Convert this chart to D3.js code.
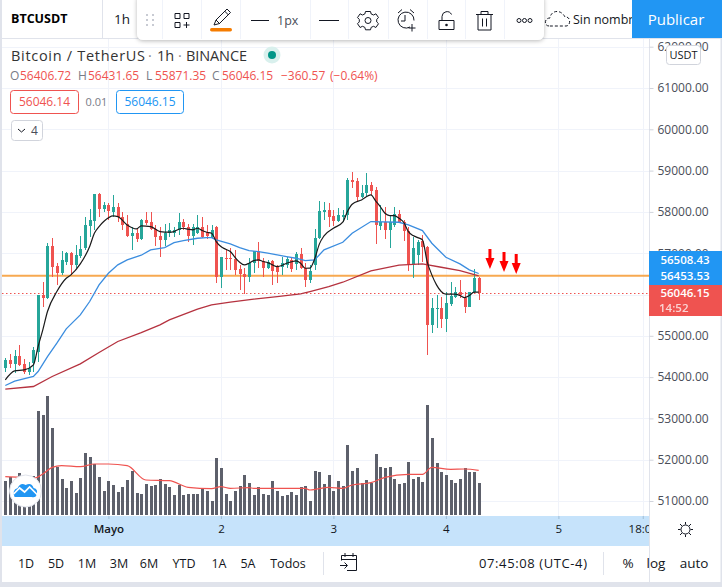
<!DOCTYPE html>
<html><head><meta charset="utf-8">
<script src="https://cdn.jsdelivr.net/npm/d3@7/dist/d3.min.js"></script>
<style>html,body{margin:0;padding:0;background:#fff;overflow:hidden}svg{display:block}text{font-family:"Open Sans",sans-serif}</style>
</head><body><svg id="c" width="722" height="587"></svg>
<script>
// OHLC values per hourly candle
const opens=[54232,54418,54321,54515,54321,54135,54337,54619,55991,55926,57185,56693,56515,56798,56999,56717,56935,57120,57661,57790,58435,58064,58169,58008,58112,57887,57701,57419,57483,57346,57806,57766,57580,57419,57322,57483,57483,57564,57750,57629,57419,57483,57645,57507,57386,57645,56435,56878,56878,56862,56620,56499,56435,56757,57064,56822,56636,56814,56701,56677,56717,56838,56741,56983,56636,56354,56717,57362,58008,58048,57903,57782,57887,57927,58774,58750,58354,58451,58653,58532,57669,57749,57564,57685,57943,57749,57548,56733,56959,57298,57161,55265,55652,55668,55410,55773,55951,56056,55926,55709,56056,56406.72];
const highs=[54458,54563,54660,54781,54442,54377,54724,55991,56314,57241,57370,56757,57056,57040,57040,57201,57419,57887,58064,58435,58450,58250,58225,58411,58209,58008,57927,57645,57604,57822,58008,57991,57685,57645,57701,57741,57645,57967,57822,57709,57709,57927,57887,57685,57685,57660,56902,57096,57120,57080,56717,56636,56878,57064,57265,56878,56838,56838,56717,56919,56902,56919,57040,57120,56757,56717,57588,58266,58250,58209,58048,58088,58048,58814,58960,58830,58653,58935,58734,58613,58169,58129,57927,58129,58048,57806,57645,57403,57322,57443,57170,55910,55991,55951,56072,56297,56193,56354,56072,56072,56620,56431.65];
const lows=[54135,54216,54095,54273,54079,54039,54135,54377,55709,55900,56435,56233,56475,56717,56475,56636,56878,57080,57403,57564,57887,57991,57806,57887,57766,57564,57400,57080,57282,57330,57685,57564,57177,56919,57185,57400,57403,57443,57564,57282,57201,57470,57362,57338,57370,56273,56152,56596,56600,56475,56112,56007,56314,56515,56636,56435,56620,56233,56290,56475,56636,56556,56596,56620,56176,56273,56600,57346,57806,57645,57669,57749,57766,57806,58572,58250,58330,58371,58411,57225,57564,57346,57136,57645,57725,57298,56572,56410,56717,56798,54539,55079,55184,55184,55104,55733,55910,55910,55547,55690,56030,55871.35];
const closes=[54418,54321,54515,54297,54135,54216,54660,55991,55926,57185,56677,56531,56838,56999,56717,56959,57104,57685,57806,58435,58064,58169,58032,58112,57887,57685,57419,57483,57346,57806,57725,57580,57403,57322,57483,57564,57564,57766,57629,57419,57629,57645,57403,57419,57564,56435,56902,56854,56854,56596,56499,56418,56757,57064,56822,56636,56798,56580,56556,56757,56854,56620,56983,56636,56354,56580,57362,58024,58048,57870,57782,57927,57927,58774,58734,58354,58459,58653,58508,57685,57749,57564,57749,57943,57749,57548,56733,57120,57282,57161,55265,55684,55684,55410,55789,55975,56056,55991,55709,56056,56410,56046.15];
const volumes=[103,113,103,125,107,107,117,312,300,357,260,143,108,81,102,66,111,186,174,153,114,72,102,90,69,84,105,132,66,63,93,87,90,108,93,84,60,90,60,63,63,63,81,72,42,171,141,63,42,72,87,120,96,60,84,63,60,102,72,57,60,69,60,84,87,42,132,129,93,120,72,102,87,210,132,141,96,105,96,183,144,141,144,108,93,96,159,108,114,99,330,231,156,129,120,105,96,108,141,129,129,96];
// Sparse moving-average vertices: candle index and value
const fastIdx=[0,2,4,6,7,8,9,11,13,14,16,18,19,20,21,23,24,26,28,29,31,33,35,36,37,38,39,40,41,42,43,44,45,46,47,48,49,50,51,52,53,54,55,56,57,58,59,60,61,62,63,64,65,66,67,68,70,72,73,74,76,78,79,80,81,82,83,84,85,86,87,88,89,90,91,92,93,94,95,96,97,98,99,100,101];
const fastVal=[53934,54152,54176,54297,54741,55144,55588,56072,56394,56475,56741,57161,57483,57645,57766,57903,57887,57685,57588,57661,57645,57524,57508,57524,57580,57604,57580,57564,57604,57548,57507,57483,57282,57161,57096,57040,56902,56781,56717,56757,56822,56838,56798,56773,56717,56677,56701,56757,56790,56814,56757,56636,56640,56860,57220,57420,57604,57750,58008,58185,58290,58411,58266,58129,57967,57911,57911,57846,57749,57524,57427,57378,57322,56798,56475,56233,56072,56007,56007,56007,55975,55926,55975,56056,56056];
const midIdx=[0,2,6,7,9,11,13,16,18,20,22,24,26,29,31,34,36,38,41,43,44,45,48,50,52,54,56,58,60,62,64,66,68,72,74,78,84,86,89,91,94,97,99,101];
const midVal=[53797,53902,54018,54135,54498,54821,55168,55507,55830,56233,56515,56717,56838,56951,57080,57136,57257,57306,57362,57378,57378,57322,57225,57136,57064,57040,57000,56959,56919,56878,56822,56838,57080,57265,57483,57766,57749,57685,57548,57241,56902,56741,56596,56508.43];
const slowIdx=[0,6,10,16,20,24,29,33,35,41,44,48,53,58,63,65,69,72,78,84,89,93,97,101];
const slowVal=[53708,53772,54014,54321,54595,54862,55079,55265,55386,55644,55749,55813,55886,55951,56015,56072,56193,56297,56572,56709,56741,56660,56580,56453.53];
const volMaIdx=[0,3,6,8,10,12,16,19,22,26,30,35,39,44,46,48,52,53,64,65,69,72,74,78,81,86,89,91,95,98,101];
const volMaVal=[115,113,110,123,143,148,145,153,153,148,105,103,83,79,85,80,82,80,80,75,83,80,90,97,113,122,122,143,137,138,134];
// Axis ticks
const priceTicks=[51000,52000,53000,54000,55000,56000,57000,58000,59000,60000,61000,62000];
const timeTickIdx=[22,46,70,94,118,136];
const timeTickLabels=["Mayo","2","3","4","5","18:00"];
const markerIdx=[103.4,106.4,109];
const markerPrice=[57102,57030,56980];
const rangeLabels=["1D","5D","1M","3M","6M","YTD","1A","5A","Todos"];
const rangeX=[26,56,87,119,149,184,219,248,288];
const lastPrice=56046.15, linePrice=56453.53;

const GREEN="#26a69a",RED="#ef5350",GRID="#f0f3fa",TXT="#131722",AX="#4a4e59";
const svg=d3.select("#c");
const defs=svg.append("defs");
defs.append("clipPath").attr("id","plot").append("rect").attr("x",2).attr("y",38).attr("width",647).attr("height",478);
defs.append("clipPath").attr("id","tx2").append("rect").attr("x",0).attr("y",0).attr("width",649).attr("height",30);
const fl=defs.append("filter").attr("id","sh").attr("x","-5%").attr("y","-30%").attr("width","110%").attr("height","170%");
fl.append("feDropShadow").attr("dx",0).attr("dy",1).attr("stdDeviation",2.2).attr("flood-color","#000").attr("flood-opacity",.28);

const x=d3.scaleLinear().domain([0,101]).range([5.3,478.7]);
const y=d3.scaleLinear().domain([51000,61000]).range([501,88]);
const yv=d3.scaleLinear().domain([0,360]).range([515,395]);

svg.append("rect").attr("width",722).attr("height",587).attr("fill","#fff");
// frame
svg.append("rect").attr("x",0).attr("y",0).attr("width",2).attr("height",587).attr("fill","#e0e3eb");
svg.append("rect").attr("x",0).attr("y",582).attr("width",722).attr("height",5).attr("fill","#e0e3eb");
svg.append("rect").attr("x",720.5).attr("y",38).attr("width",1.5).attr("height",549).attr("fill","#e0e3eb");

const plot=svg.append("g").attr("clip-path","url(#plot)");
// grid
plot.append("g").selectAll("line").data(priceTicks).join("line")
 .attr("x1",2).attr("x2",649).attr("y1",d=>Math.round(y(d))+.5).attr("y2",d=>Math.round(y(d))+.5).attr("stroke",GRID);
plot.append("g").selectAll("line").data(timeTickIdx).join("line")
 .attr("x1",d=>Math.round(x(d))+.5).attr("x2",d=>Math.round(x(d))+.5).attr("y1",38).attr("y2",516).attr("stroke",GRID);

// volume
const bars=plot.append("g").attr("shape-rendering","crispEdges");
bars.selectAll("rect").data(volumes).join("rect")
 .attr("x",(d,i)=>Math.round(x(i))-1).attr("width",3).attr("y",d=>yv(d)).attr("height",d=>yv(0)-yv(d)).attr("fill","#5d606b");
const pairs=(a,b)=>a.map((v,i)=>[v,b[i]]);
const lineP=d3.line().x(d=>x(d[0])).y(d=>y(d[1])).curve(d3.curveMonotoneX);
const lineL=d3.line().x(d=>x(d[0])).y(d=>y(d[1]));
plot.append("path").attr("d",d3.line().x(d=>x(d[0])).y(d=>yv(d[1])).curve(d3.curveMonotoneX)(pairs(volMaIdx,volMaVal))).attr("fill","none").attr("stroke","#ef5350").attr("stroke-width",1.2);

// price lines
plot.append("line").attr("x1",2).attr("x2",649).attr("y1",y(linePrice)).attr("y2",y(linePrice)).attr("stroke","#f7a950").attr("stroke-width",2);
plot.append("line").attr("x1",2).attr("x2",649).attr("y1",Math.round(y(lastPrice))+.5).attr("y2",Math.round(y(lastPrice))+.5).attr("stroke",RED).attr("stroke-width",1).attr("stroke-dasharray","1.5 2.5");

// candles
const idx=d3.range(opens.length);
const cg=plot.append("g").attr("shape-rendering","crispEdges");
cg.selectAll("line").data(idx).join("line")
 .attr("x1",i=>Math.round(x(i))+.5).attr("x2",i=>Math.round(x(i))+.5)
 .attr("y1",i=>y(highs[i])).attr("y2",i=>y(lows[i]))
 .attr("stroke",i=>closes[i]>=opens[i]?GREEN:RED);
cg.selectAll("rect").data(idx).join("rect")
 .attr("x",i=>Math.round(x(i))-1).attr("width",3)
 .attr("y",i=>y(Math.max(opens[i],closes[i])))
 .attr("height",i=>Math.max(1,Math.abs(y(opens[i])-y(closes[i]))))
 .attr("fill",i=>closes[i]>=opens[i]?GREEN:RED);

// moving averages
plot.append("path").attr("d",lineL(pairs(slowIdx,slowVal))).attr("fill","none").attr("stroke","#b5323f").attr("stroke-width",1.3);
plot.append("path").attr("d",lineL(pairs(midIdx,midVal))).attr("fill","none").attr("stroke","#3b8ddf").attr("stroke-width",1.3);
plot.append("path").attr("d",lineP(pairs(fastIdx,fastVal))).attr("fill","none").attr("stroke","#1a1a1a").attr("stroke-width",1.2);

// red arrows
plot.append("g").selectAll("path").data(markerIdx).join("path")
 .attr("transform",(d,i)=>`translate(${x(d)},${y(markerPrice[i])})`)
 .attr("d","M-1.5 0H1.5V9H4.5L0 20L-4.5 9H-1.5Z").attr("fill","#ff0000");

// logo
const logo=svg.append("g").attr("transform","translate(25.6,491)");
logo.append("circle").attr("r",16).attr("fill","#fff").attr("stroke","#e0e3eb").attr("stroke-width",1);
logo.append("path").attr("d","M-11 6Q-14 -1 -8 -3Q-5 -9 0 -6Q6 -9 8 -3Q13 -2 11 4Q10 7 6 6Q-2 6 -11 6Z").attr("fill","#2196f3");
logo.append("path").attr("d","M-12 3L-6 -3L-1 1L4 -4L12 4").attr("fill","none").attr("stroke","#fff").attr("stroke-width",1.7);

// price axis (the 56000.00 label sits fully behind the price tags)
svg.append("line").attr("x1",649.5).attr("x2",649.5).attr("y1",38).attr("y2",582).attr("stroke","#e0e3eb");
const ax=svg.append("g").attr("transform","translate(649.5,0)").call(d3.axisRight(y).tickValues(priceTicks).tickSize(4).tickPadding(4).tickFormat(d=>d===56000?"":d3.format(".2f")(d)));
ax.select(".domain").remove();
ax.selectAll("line").attr("stroke","#d1d4dc");
ax.selectAll("text").attr("fill",AX).attr("font-size",12).attr("x",8);

// price tags
function tag(y0,h,fill){svg.append("rect").attr("x",649).attr("y",y0).attr("width",73).attr("height",h).attr("fill",fill);}
tag(251,34,"#2196f3");tag(285,31,"#ef5350");
function t(px,py,s,o={}){const e=svg.append("text").attr("x",px).attr("y",py).text(s)
 .attr("font-size",o.size||12).attr("fill",o.fill||TXT).attr("text-anchor",o.anchor||"start")
 .attr("font-weight",o.weight||400);if(o.op)e.attr("opacity",o.op);return e;}
t(685,264,"56508.43",{fill:"#fff",anchor:"middle",weight:600,size:11.5});
t(685,280,"56453.53",{fill:"#fff",anchor:"middle",weight:600,size:11.5});
t(685,297,"56046.15",{fill:"#fff",anchor:"middle",weight:600,size:11.5});
t(659,312,"14:52",{fill:"#fff",op:.75,weight:600,size:11.5});

// USDT button
svg.append("rect").attr("x",666.5).attr("y",45.5).attr("width",34).attr("height",19).attr("rx",3).attr("fill","#fff").attr("stroke","#d1d4dc");
t(683.5,59,"USDT",{anchor:"middle",size:11});

// time axis
svg.append("rect").attr("x",2).attr("y",516).attr("width",647).attr("height",30).attr("fill","#c6e3fb");
const tx=svg.append("g").attr("clip-path","url(#tx2)").attr("transform","translate(0,516)")
 .call(d3.axisBottom(x).tickValues(timeTickIdx).tickSize(3).tickPadding(6).tickFormat((d,i)=>timeTickLabels[i]));
tx.select(".domain").remove();
tx.selectAll("line").attr("stroke","#9fbdd6");
tx.selectAll("text").attr("fill",TXT).attr("font-size",11.5).attr("y",9).attr("font-weight",(d,i)=>i==0?600:400);

// sun icon
const sun=svg.append("g").attr("transform","translate(685.5,529.5)").attr("fill","none").attr("stroke","#131722");
sun.append("circle").attr("r",4.5);
[[0,-5,0,-7.5],[0,5,0,7.5],[-5,0,-7.5,0],[5,0,7.5,0],[3.5,3.5,5.5,5.5],[-3.5,3.5,-5.5,5.5],[3.5,-3.5,5.5,-5.5],[-3.5,-3.5,-5.5,-5.5]].forEach(l=>sun.append("line").attr("x1",l[0]).attr("y1",l[1]).attr("x2",l[2]).attr("y2",l[3]));

// bottom bar
rangeLabels.forEach((s,i)=>t(rangeX[i],567.5,s,{anchor:"middle",size:12.5}));
svg.append("line").attr("x1",323.5).attr("x2",323.5).attr("y1",552).attr("y2",575).attr("stroke","#e0e3eb");
svg.append("line").attr("x1",603.5).attr("x2",603.5).attr("y1",552).attr("y2",575).attr("stroke","#e0e3eb");
t(479,567.5,"07:45:08 (UTC-4)",{size:13}).attr("textLength",108);
t(628,567.5,"%",{anchor:"middle",size:13.5});t(656,567.5,"log",{anchor:"middle",size:13.5});t(694,567.5,"auto",{anchor:"middle",size:13.5});
svg.append("path").attr("d","M341.5 560.5V555.5H356.5V570.5H347M341.5 559.5H356.5M345 553V557M353 553V557M340 565.5H347M344.5 562.5L347.5 565.5L344.5 568.5").attr("fill","none").attr("stroke","#131722");

// top toolbar
svg.append("line").attr("x1",0).attr("x2",722).attr("y1",38.5).attr("y2",38.5).attr("stroke","#e0e3eb");
svg.append("line").attr("x1",102.5).attr("x2",102.5).attr("y1",0).attr("y2",38).attr("stroke","#e0e3eb");
t(11,23,"BTCUSDT",{weight:700,size:12.5,fill:"#000"});
t(114,24,"1h",{size:13.5});
t(573,24,"Sin nombr",{size:12.5});
svg.append("path").attr("d","M549 26C544 26 544 18 550 18C551 10 561 9 565 17C571 16 571 26 566 26Z").attr("fill","none").attr("stroke","#131722").attr("stroke-dasharray","3 2");
svg.append("rect").attr("x",632).attr("y",0).attr("width",90).attr("height",38).attr("fill","#2196f3");
t(676,25,"Publicar",{fill:"#fff",size:15,anchor:"middle"});

// floating toolbar
svg.append("rect").attr("x",137).attr("y",-6).attr("width",407).attr("height",46).attr("rx",6).attr("fill","#fff").attr("filter","url(#sh)");
[162,201,240,310,348,388,427,465,504].forEach(v=>svg.append("line").attr("x1",v+.5).attr("x2",v+.5).attr("y1",0).attr("y2",39).attr("stroke","#f0f3fa"));
const dots=svg.append("g").attr("fill","#c8cbd3");
[[147,15],[153,15],[147,20],[153,20],[147,25],[153,25]].forEach(p=>dots.append("rect").attr("x",p[0]-1).attr("y",p[1]-1).attr("width",2).attr("height",2));
const ic=svg.append("g").attr("fill","none").attr("stroke","#131722").attr("stroke-width",1);
ic.append("path").attr("d","M175 13.5h5v5h-5zM184 13.5h5v5h-5zM175 22.5h5v5h-5zM186.500 22v6M183.500 25h6").attr("stroke-linejoin","round");
ic.append("path").attr("d","M214 25l2-5 11-11 3.500 3.500-11 11zM216 20l4 4M224.500 11l4 4");
svg.append("rect").attr("x",210).attr("y",28).attr("width",22).attr("height",3.5).attr("rx",1.7).attr("fill","#f57c00");
ic.append("path").attr("d","M251 20.500h18M319 20.500h20");
t(277,25,"1px",{size:12.5,fill:AX});
ic.append("circle").attr("cx",368).attr("cy",20.5).attr("r",3);
ic.append("path").attr("d","M365.500 11.500h5l.7 2.500 2.400 1 2.300-1.200 2.600 3.800-1.800 1.800v2.500l1.800 1.800-2.600 3.800-2.300-1.200-2.400 1-.7 2.500h-5l-.7-2.500-2.400-1-2.300 1.200-2.600-3.800 1.800-1.800v-2.500l-1.800-1.800 2.600-3.800 2.300 1.200 2.400-1z");
ic.append("path").attr("d","M410 27A8 8 0 1 1 414 20.500M405 15v6h-4M398 13l4-3.500M410 9.500l4 3.500M412 24v7.500M408.500 28h7");
ic.append("path").attr("d","M439 20.500h15v9h-15zM442 20.500v-4a5 5 0 0 1 9.500-2");
svg.append("circle").attr("cx",446.5).attr("cy",25).attr("r",1.3).attr("fill","#131722");
ic.append("path").attr("d","M478 15v15h13V15M476 14.500h17M481 14v-2.500h7V14M482.500 18.500v8M486.500 18.500v8");
[519,524.5,530].forEach(v=>ic.append("circle").attr("cx",v).attr("cy",20.5).attr("r",2));

// legend
t(11,61,"Bitcoin / TetherUS",{size:14.5,fill:"#333"}).attr("textLength",134);
t(148,61,"·",{size:14.5,fill:"#888"});
t(157,61,"1h",{size:14.5,fill:"#333"});
t(178,61,"·",{size:14.5,fill:"#888"});
t(186,61,"BINANCE",{size:14.5,fill:"#333"}).attr("textLength",61);
svg.append("circle").attr("cx",272).attr("cy",55).attr("r",8.5).attr("fill","#d9f0ed");
svg.append("circle").attr("cx",272).attr("cy",55).attr("r",4).attr("fill","#009688");
[["O",10,80],["56406.72",20,0],["H",78,80],["56431.65",88,0],["L",146,80],["55871.35",155,0],["C",212,80],["56046.15",222,0],["−360.57",281,0],["(−0.64%)",330,0]].forEach(a=>t(a[1],80,a[0],{size:12,fill:a[2]?"#787b86":RED}));
svg.append("rect").attr("x",10.5).attr("y",90.5).attr("width",68).attr("height",23).attr("rx",3).attr("fill","#fff").attr("stroke",RED);
t(44.5,106,"56046.14",{size:12,fill:RED,anchor:"middle"});
t(96.5,106,"0.01",{size:11,fill:"#787b86",anchor:"middle"});
svg.append("rect").attr("x",116.5).attr("y",90.5).attr("width",67).attr("height",23).attr("rx",3).attr("fill","#fff").attr("stroke","#2196f3");
t(150,106,"56046.15",{size:12,fill:"#2196f3",anchor:"middle"});
svg.append("rect").attr("x",11.5).attr("y",120.5).attr("width",31).attr("height",20).attr("rx",3).attr("fill","#fff").attr("stroke","#d1d4dc");
svg.append("path").attr("d","M18 129l3.500 3 3.500-3").attr("fill","none").attr("stroke","#131722");
t(34.5,135,"4",{size:12,fill:AX,anchor:"middle"});
</script></body></html>
